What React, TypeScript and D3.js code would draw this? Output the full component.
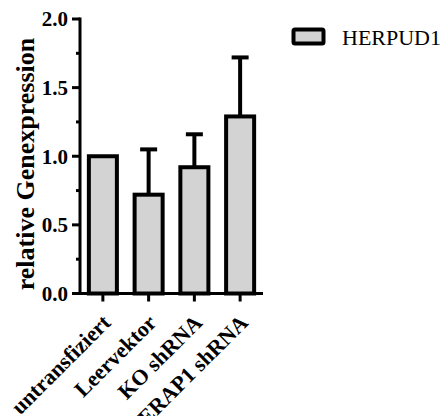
import React from "react";
import * as d3 from "d3";

const categories = ["untransfiziert", "Leervektor", "KO shRNA", "ERAP1 shRNA"];
const means = [1.0, 0.72, 0.92, 1.29];
const errors = [0, 0.33, 0.24, 0.43];
const yTicks = [0, 0.5, 1.0, 1.5, 2.0];
const yMinorTicks = [0.25, 0.75, 1.25, 1.75];
const seriesName = "HERPUD1";
const yLabel = "relative Genexpression";

const W = 440, H = 416;
const FONT = "'Liberation Serif', 'Times New Roman', serif";
const FILL = "#d3d3d3";

export default function App() {
  const x = d3.scaleBand<string>().domain(categories).range([80, 263]).paddingInner(0.3).paddingOuter(0.15);
  const y = d3.scaleLinear().domain([0, 2]).range([293.5, 19]);
  const bw = x.bandwidth();
  const cx = (c: string) => (x(c) as number) + bw / 2;

  return (
    <svg width={W} height={H} style={{ position: "absolute", left: 0, top: 0, background: "#fff" }}>
      {/* bars */}
      {categories.map((c, i) => (
        <g key={c}>
          {errors[i] > 0 && (
            <g stroke="#000" strokeWidth={4}>
              <line x1={cx(c)} x2={cx(c)} y1={y(means[i])} y2={y(means[i] + errors[i])} />
              <line x1={cx(c) - 8.5} x2={cx(c) + 8.5} y1={y(means[i] + errors[i])} y2={y(means[i] + errors[i])} />
            </g>
          )}
          <rect
            x={(x(c) as number) + 2}
            width={bw - 4}
            y={y(means[i])}
            height={y(0) - y(means[i])}
            fill={FILL}
            stroke="#000"
            strokeWidth={4}
          />
        </g>
      ))}
      {/* y axis */}
      <line x1={80} x2={80} y1={y(2) - 1.5} y2={y(0) + 1.5} stroke="#000" strokeWidth={3} />
      {yTicks.map((t) => (
        <g key={t}>
          <line x1={72} x2={80} y1={y(t)} y2={y(t)} stroke="#000" strokeWidth={3} />
          <text x={68} y={y(t)} dy="0.35em" textAnchor="end" fontFamily={FONT} fontWeight="bold" fontSize={21}>
            {d3.format(".1f")(t)}
          </text>
        </g>
      ))}
      {yMinorTicks.map((t) => (
        <line key={t} x1={76} x2={80} y1={y(t)} y2={y(t)} stroke="#000" strokeWidth={3} />
      ))}
      {/* x axis */}
      <line x1={80} x2={263} y1={y(0)} y2={y(0)} stroke="#000" strokeWidth={3} />
      {categories.map((c) => (
        <g key={c}>
          <line x1={cx(c)} x2={cx(c)} y1={y(0)} y2={y(0) + 8} stroke="#000" strokeWidth={3} />
          <text
            transform={`translate(${cx(c) + 9},${324}) rotate(-45)`}
            textAnchor="end"
            fontFamily={FONT}
            fontWeight="bold"
            fontSize={22}
          >
            {c}
          </text>
        </g>
      ))}
      {/* y label */}
      <text
        transform={`translate(34,164) rotate(-90)`}
        textAnchor="middle"
        fontFamily={FONT}
        fontWeight="bold"
        fontSize={26}
      >
        {yLabel}
      </text>
      {/* legend */}
      <rect x={293.5} y={29.5} width={30} height={14} fill={FILL} stroke="#000" strokeWidth={4} rx={1.5} />
      <text x={342} y={45} fontFamily={FONT} fontSize={22}>
        {seriesName}
      </text>
    </svg>
  );
}
